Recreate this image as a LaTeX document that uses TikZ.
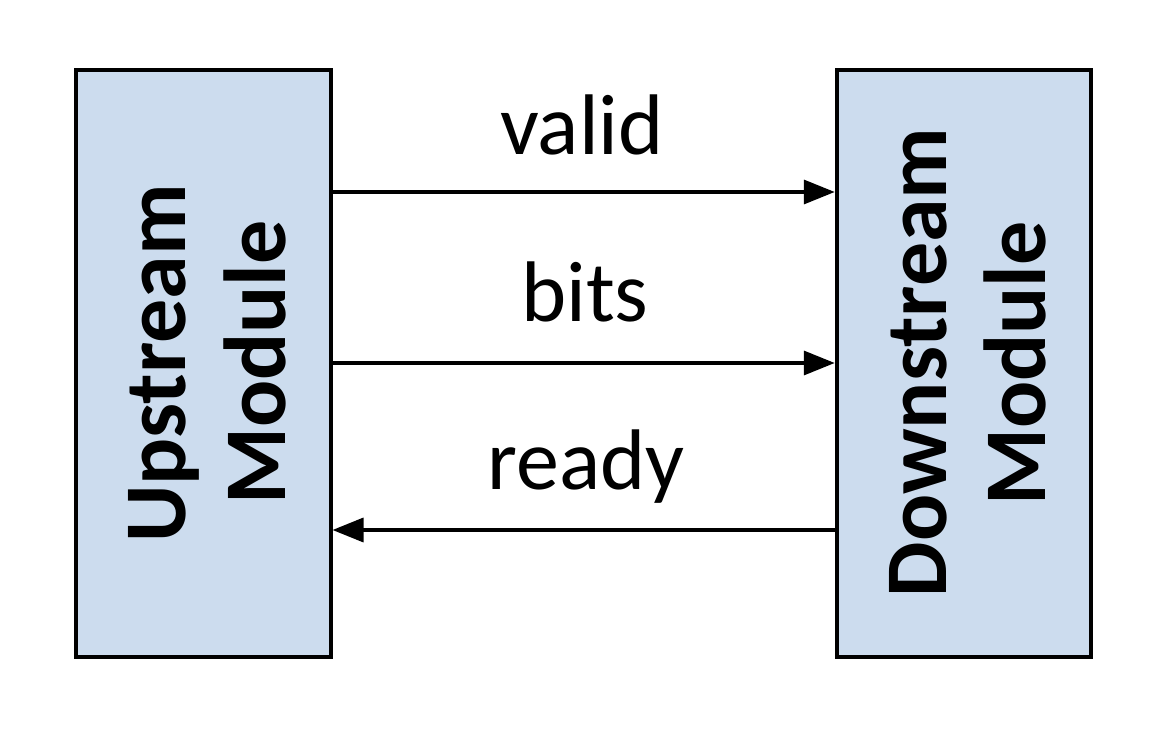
\documentclass[tikz,border=0pt]{standalone}
\usepackage{fontspec}
\setmainfont{Carlito}
\usetikzlibrary{arrows.meta}
\definecolor{boxfill}{RGB}{204,220,238}
\tikzset{
  modbox/.style={draw=black, fill=boxfill, line width=4pt, inner sep=0pt,
    minimum width=254.5pt, minimum height=587pt},
  modtext/.style={anchor=base, rotate=90, inner sep=0pt,
    font=\fontsize{88}{100}\selectfont\bfseries},
  sigtext/.style={anchor=base, inner sep=0pt, font=\fontsize{86}{100}\selectfont},
  arr/.style={line width=3.5pt, -{Triangle[length=31pt,width=24pt]}}
}
\begin{document}
\begin{tikzpicture}[x=1pt,y=1pt]
\useasboundingbox (0,0) rectangle (1164,734);
\fill[white] (0,0) rectangle (1164,734);
\node[modbox] (up) at (203.25,370.5) {};
\node[modbox] (down) at (964,370.5) {};
\node[modtext] (upa) at (185,370.5) {Upstream};
\node[modtext] (upb) at (285,371.5) {Module};
\node[modtext] (downa) at (946,371.5) {Downstream};
\node[modtext] (downb) at (1045,370.5) {Module};
\draw[arr] ([yshift=171.5pt]up.east) -- ([yshift=171.5pt]down.west);
\draw[arr] ([yshift=0.5pt]up.east) -- ([yshift=0.5pt]down.west);
\draw[arr] ([yshift=-166.5pt]down.west) -- ([yshift=-166.5pt]up.east);
\node[sigtext] (lv) at (582,579) {valid};
\node[sigtext] (lb) at (585,412) {bits};
\node[sigtext] (lr) at (586,244) {ready};
\end{tikzpicture}
\end{document}
